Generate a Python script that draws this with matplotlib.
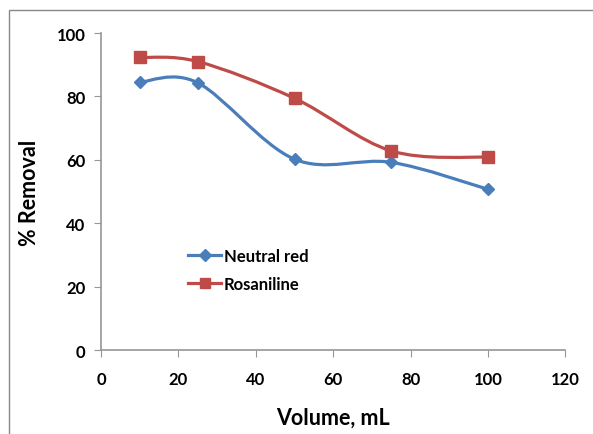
import matplotlib
matplotlib.use('Agg')
import matplotlib.pyplot as plt
from matplotlib.path import Path
from matplotlib.patches import PathPatch, Rectangle
from matplotlib.lines import Line2D

plt.rcParams['font.family'] = ['Lato', 'DejaVu Sans']
plt.rcParams['font.weight'] = 'bold'

volume = [10, 25, 50, 75, 100]
neutral_red = [84.5, 84.3, 60.2, 59.2, 50.7]
rosaniline = [92.3, 91.0, 79.4, 62.8, 60.8]
x_ticks = [0, 20, 40, 60, 80, 100, 120]
y_ticks = [0, 20, 40, 60, 80, 100]

blue = '#4A7EBB'
red = '#BE4B48'
grey = '#969696'


def smooth_path(xs, ys):
    # excel style bezier smoothing
    pts = list(zip(xs, ys))
    verts = [pts[0]]
    codes = [Path.MOVETO]
    n = len(pts)
    for i in range(n - 1):
        p0 = pts[i - 1] if i > 0 else pts[i]
        p1 = pts[i]
        p2 = pts[i + 1]
        p3 = pts[i + 2] if i + 2 < n else pts[i + 1]
        c1 = (p1[0] + (p2[0] - p0[0]) / 6, p1[1] + (p2[1] - p0[1]) / 6)
        c2 = (p2[0] - (p3[0] - p1[0]) / 6, p2[1] - (p3[1] - p1[1]) / 6)
        verts += [c1, c2, p2]
        codes += [Path.CURVE4] * 3
    return Path(verts, codes)


fig = plt.figure(figsize=(5.93, 4.35), dpi=100)
ax = fig.add_axes([0.1703, 0.1931, 0.7833, 0.7287])

# outer chart frame
fig.patches.append(Rectangle((9 / 593, -0.1), 1.2, 1 - 11 / 435 + 0.1,
                             transform=fig.transFigure, fill=False,
                             edgecolor='#888888', linewidth=1.0))

for ys, col in [(neutral_red, blue), (rosaniline, red)]:
    ax.add_patch(PathPatch(smooth_path(volume, ys), facecolor='none',
                           edgecolor=col, linewidth=2.3, zorder=2))

ax.plot(volume, neutral_red, linestyle='none', marker='D', markersize=6.5,
        color=blue, zorder=3)
ax.plot(volume, rosaniline, linestyle='none', marker='s', markersize=8,
        color=red, zorder=3)

ax.set_xlim(0, 120)
ax.set_ylim(0, 100)
ax.set_xticks(x_ticks)
ax.set_yticks(y_ticks)
ax.tick_params(axis='both', direction='out', length=5, color=grey,
               labelsize=12, pad=6)
for lab in ax.get_xticklabels() + ax.get_yticklabels():
    lab.set_fontweight('bold')
ax.tick_params(axis='x', pad=10)

for s in ['top', 'right']:
    ax.spines[s].set_visible(False)
for s in ['left', 'bottom']:
    ax.spines[s].set_color(grey)
    ax.spines[s].set_linewidth(1.2)

ax.set_xlabel('Volume, mL', fontsize=15.5, fontweight='bold', labelpad=14)
ax.set_ylabel('% Removal', fontsize=15.5, fontweight='bold', labelpad=12)

handles = [Line2D([], [], color=blue, lw=2.3, marker='D', markersize=6),
           Line2D([], [], color=red, lw=2.3, marker='s', markersize=7)]
ax.legend(handles, ['Neutral red', 'Rosaniline'], loc='upper left',
          bbox_to_anchor=(0.155, 0.37), frameon=False,
          prop={'weight': 'bold', 'size': 12}, handlelength=2.0,
          handletextpad=0.15, labelspacing=0.75)

fig.savefig('out.png', dpi=100)
